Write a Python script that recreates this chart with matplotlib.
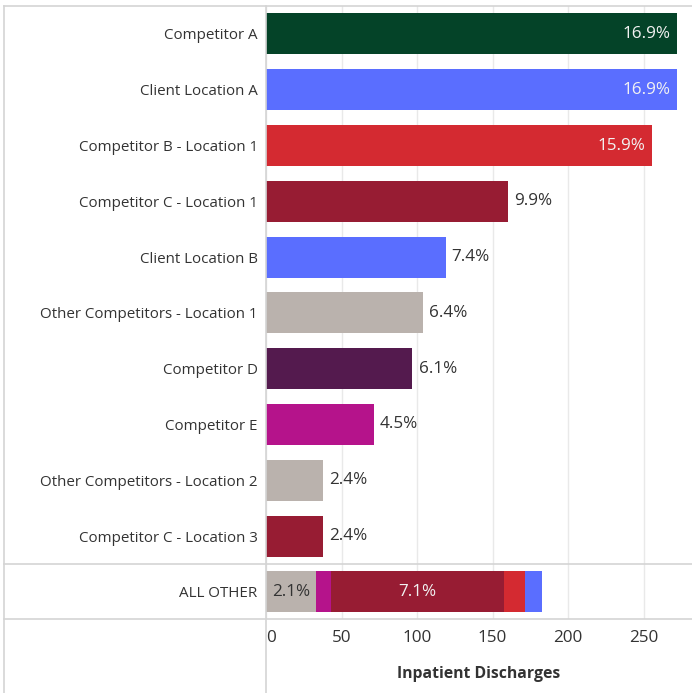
import numpy as np
import matplotlib.pyplot as plt
from matplotlib.lines import Line2D

plt.rcParams['font.family'] = ['Open Sans', 'DejaVu Sans']

###################################################
# Data
###################################################
categories = [
    "Competitor A",
    "Client Location A",
    "Competitor B - Location 1",
    "Competitor C - Location 1",
    "Client Location B",
    "Other Competitors - Location 1",
    "Competitor D",
    "Competitor E",
    "Other Competitors - Location 2",
    "Competitor C - Location 3",
]
discharges = [272, 272, 255.5, 160, 119, 104, 97, 71.5, 38, 38]
pct_labels = ["16.9%", "16.9%", "15.9%", "9.9%", "7.4%", "6.4%", "6.1%", "4.5%", "2.4%", "2.4%"]
groups = ["A", "client", "B", "C", "client", "other", "D", "E", "other", "C"]

other_groups = ["other", "E", "C", "B", "client"]
other_values = [33, 10, 114.5, 14, 11.5]
other_labels = ["2.1%", "", "7.1%", "", ""]

x_ticks = [0, 50, 100, 150, 200, 250]

colors = {
    "A": "#044328",
    "client": "#5a6eff",
    "B": "#d42a31",
    "C": "#971c33",
    "other": "#bab2ad",
    "D": "#541a4e",
    "E": "#b5138b",
}
light_text = {"A", "B", "C", "client", "D"}

###################################################
# Layout (pixel geometry of the 692x693 reference)
###################################################
W, H = 692, 693
x0_px, x_right_px = 266, 692
px_per_unit = 1.51
xmax = (x_right_px - x0_px) / px_per_unit

fig = plt.figure(figsize=(W / 100, H / 100), dpi=100)

def fy(py):
    return 1 - py / H

ax = fig.add_axes([x0_px / W, fy(564), 1 - x0_px / W, fy(6) - fy(564)])
ax2 = fig.add_axes([x0_px / W, fy(619), 1 - x0_px / W, fy(564) - fy(619)])

grid_c = "#e9e9e9"
line_c = "#d4d4d4"
text_c = "#333333"
val_fs = 12.3
cat_fs = 10.9

# main bars
y = np.arange(len(categories))
ax.barh(y, discharges, height=0.735, color=[colors[g] for g in groups],
        edgecolor="none", zorder=3)
for yi, v, lab, g in zip(y, discharges, pct_labels, groups):
    if v > 200:
        ax.text(v - 4, yi, lab, ha="right", va="center", fontsize=val_fs,
                color="#f2f2f2", zorder=4)
    else:
        ax.text(v + 4, yi, lab, ha="left", va="center", fontsize=val_fs,
                color=text_c, zorder=4)
ax.set_ylim(len(categories) - 0.5, -0.5)
ax.set_yticks(y)
ax.set_yticklabels(categories, fontsize=cat_fs, color=text_c)

# ALL OTHER stacked bar
left = 0
for g, v, lab in zip(other_groups, other_values, other_labels):
    ax2.barh(0, v, left=left, height=0.76, color=colors[g], edgecolor="none", zorder=3)
    if lab:
        ax2.text(left + v / 2, 0, lab, ha="center", va="center", fontsize=val_fs,
                 color="#f2f2f2" if g in light_text else text_c, zorder=4)
    left += v
ax2.set_ylim(0.5, -0.5)
ax2.set_yticks([0])
ax2.set_yticklabels(["ALL OTHER"], fontsize=cat_fs, color=text_c)

for a in (ax, ax2):
    a.set_xlim(0, xmax)
    a.set_xticks(x_ticks)
    a.grid(axis="x", color=grid_c, linewidth=1, zorder=0)
    for s in a.spines.values():
        s.set_visible(False)
    a.tick_params(axis="y", length=0, pad=6)
    a.tick_params(axis="x", length=0)

ax.set_xticklabels([])
ax2.tick_params(axis="x", pad=8, labelsize=val_fs, labelcolor=text_c)
ax2.get_xticklabels()[0].set_horizontalalignment("left")
ax2.set_xlabel("Inpatient Discharges", fontsize=11.3, fontweight="bold",
               color=text_c, labelpad=14)

# frame lines (Tableau style)
for py in (6, 564, 619):
    fig.add_artist(Line2D([4 / W, 1], [fy(py), fy(py)], color=line_c, linewidth=1.2))
for px in (4, x0_px):
    fig.add_artist(Line2D([px / W, px / W], [0, fy(6)], color=line_c, linewidth=1.2))

fig.savefig("out.png", dpi=100)
